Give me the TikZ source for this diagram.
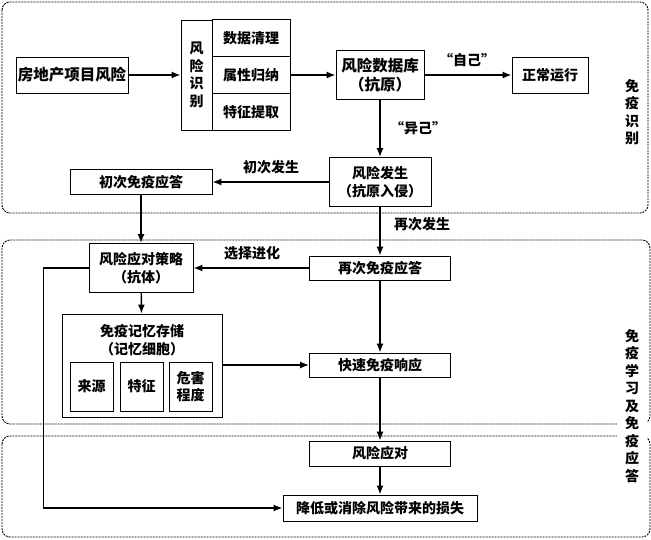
\documentclass[tikz,border=0pt]{standalone}
\usepackage{fontspec}
\setmainfont{Noto Sans CJK SC}
\usetikzlibrary{arrows.meta}
\tikzset{
    box/.style={draw, line width=0.9pt, inner sep=1pt, align=center},
    link/.style={line width=1.4pt, -{Latex[length=9pt,width=7pt]}},
    zone/.style={draw, dash pattern=on 2pt off 1pt, line width=0.9pt, rounded corners=8pt},
    big/.style={font=\bfseries\fontsize{15.5}{19}\selectfont},
}

\begin{document}
\begin{tikzpicture}[x=1pt,y=-1pt,font=\bfseries\fontsize{14}{17.5}\selectfont]
        \useasboundingbox (0,0) rectangle (651,540);
        % three dashed zones
        \draw[zone] (2,2) rectangle (648,213);
        \draw[zone] (2,240) rectangle (650,424);
        \draw[zone] (2,436) rectangle (650,537);
        \node[align=center] (zoneA) at (632,112) {免\\疫\\识\\别};
        \node[align=center, fill=white, inner xsep=8pt] (zoneB) at (632,406) {免\\疫\\学\\习\\及\\免\\疫\\应\\答};

        % identification
        \node[box, big, minimum width=112pt, minimum height=36pt] (src) at (72,75) {房地产项目风险};
        \node[box, minimum width=31pt, minimum height=110pt] (col) at (196.5,75) {风\\险\\识\\别};
        \node[box, minimum width=78pt, minimum height=36.7pt] (c1) at (251,38.3) {数据清理};
        \node[box, minimum width=78pt, minimum height=36.7pt] (c2) at (251,75) {属性归纳};
        \node[box, minimum width=78pt, minimum height=36.7pt] (c3) at (251,111.7) {特征提取};
        \node[box, big, minimum width=88pt, minimum height=49pt] (db) at (380,75) {风险数据库\\（抗原）};
        \node[box, minimum width=76pt, minimum height=36pt] (ok) at (550,75) {正常运行};
        \node[box, minimum width=102pt, minimum height=49pt] (occ) at (380,182) {风险发生\\（抗原入侵）};
        \node[box, minimum width=142pt, minimum height=25pt] (first) at (141,182) {初次免疫应答};

        \draw[link] (src) -- (col);
        \draw[link] (c2) -- (db);
        \draw[link] (db) -- (ok);
        \draw[link] (db) -- (occ);
        \draw[link] (occ) -- (first);
        \node (self) at (467,60) {“自己”};
        \node (other) at (418,128) {“异己”};
        \node (once) at (271,167) {初次发生};

        % learning
        \node[box, minimum width=104pt, minimum height=49pt] (strat) at (141,268) {风险应对策略\\（抗体）};
        \node[box, minimum width=141pt, minimum height=24pt] (second) at (380,268) {再次免疫应答};
        \node[box, minimum width=160pt, minimum height=103pt] (mem) at (142,365.5) {};
        \node[align=center] (memt) at (142,340) {免疫记忆存储\\（记忆细胞）};
        \node[box, minimum width=43pt, minimum height=49pt] (m1) at (91.5,386.5) {来源};
        \node[box, minimum width=43pt, minimum height=49pt] (m2) at (141.5,386.5) {特征};
        \node[box, minimum width=43pt, minimum height=49pt] (m3) at (190.5,386.5) {危害\\程度};
        \node[box, minimum width=141pt, minimum height=24pt] (fast) at (380,365) {快速免疫响应};

        \draw[link] (first) -- (strat);
        \draw[link] (occ) -- (second);
        \draw[link] (second) -- (strat);
        \draw[link] (strat) -- (mem);
        \draw[link] (second) -- (fast);
        \draw[link] (mem.east |- fast) -- (fast);
        \node (again) at (422,224) {再次发生};
        \node (evo) at (252,253) {选择进化};

        % response
        \node[box, minimum width=141pt, minimum height=25pt] (resp) at (380,453.5) {风险应对};
        \node[box, minimum width=194pt, minimum height=26pt] (loss) at (380,508) {降低或消除风险带来的损失};

        \draw[link] (fast) -- (resp);
        \draw[link] (resp) -- (loss);
        \draw[link] (strat.west) -- ++(-45,0) |- (loss.west);
\end{tikzpicture}
\end{document}
